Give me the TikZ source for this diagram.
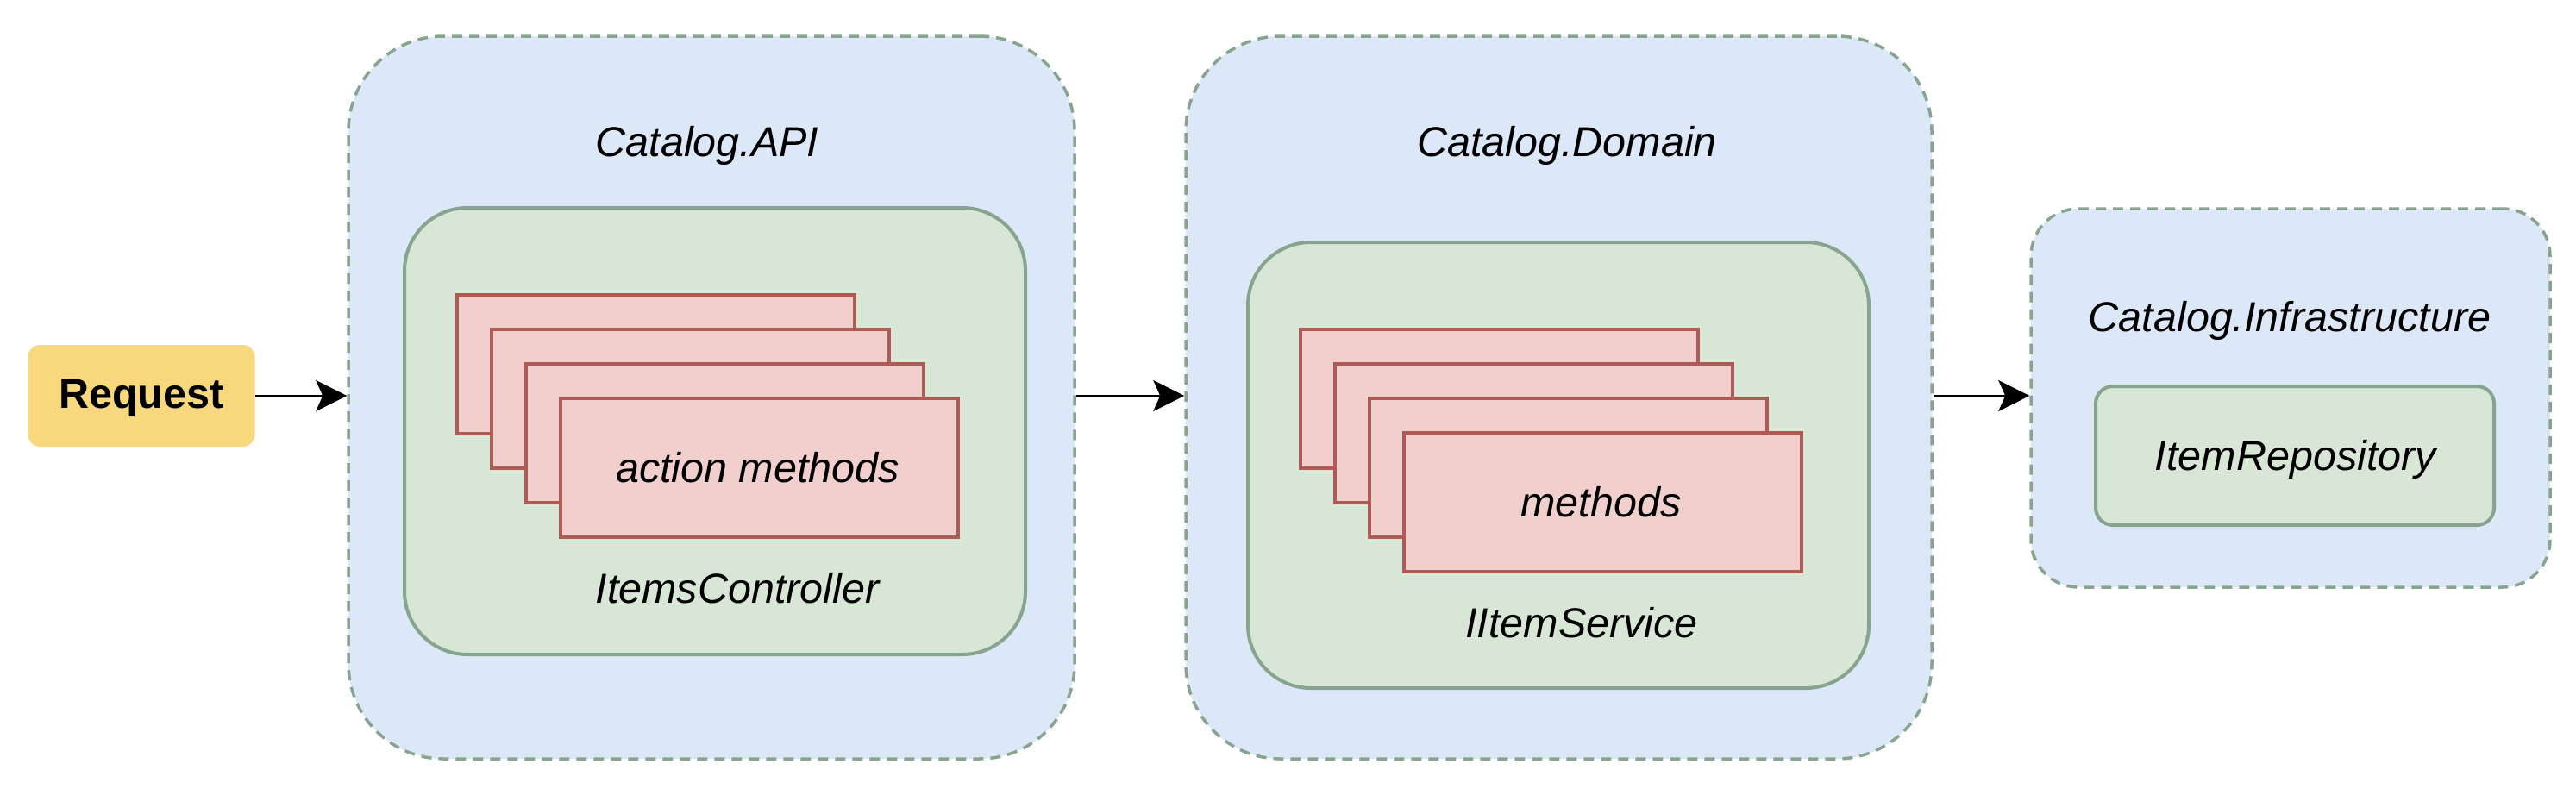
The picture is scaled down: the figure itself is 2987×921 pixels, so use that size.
\documentclass[tikz,border=0pt]{standalone}
\usepackage{fontspec}
\setmainfont{Liberation Sans}
\usetikzlibrary{arrows.meta}
\definecolor{bluefill}{HTML}{DCE7F8}
\definecolor{grayline}{HTML}{87A58E}
\definecolor{greenfill}{HTML}{D8E6D5}
\definecolor{pinkfill}{HTML}{F1CFCD}
\definecolor{pinkline}{HTML}{AE5B55}
\definecolor{reqfill}{HTML}{F7D87C}
\tikzset{
  layer/.style={draw=grayline, fill=bluefill, line width=3.5pt, dash pattern=on 12pt off 8pt, rectangle, inner sep=0pt},
  comp/.style={draw=grayline, fill=greenfill, line width=4pt, rectangle, inner sep=0pt},
  method/.style={draw=pinkline, fill=pinkfill, line width=4pt, rectangle, inner sep=0pt, minimum width=461pt, minimum height=161pt, anchor=north west},
  lbl/.style={font=\fontsize{48.5}{58}\selectfont\itshape, inner sep=0pt},
  flow/.style={line width=3pt, -{Stealth[length=36pt, width=36pt, inset=8pt]}},
}
\begin{document}
\begin{tikzpicture}[x=1pt, y=-1pt]
\useasboundingbox (0,0) rectangle (2987,921);
% Request
\node[fill=reqfill, rounded corners=14pt, minimum width=263pt, minimum height=118pt, inner sep=0pt] (req) at (164,459) {};
\node[font=\fontsize{48.5}{58}\selectfont\bfseries, inner sep=0pt] (reqlbl) at (164,462) {Request};
% Catalog.API
\node[layer, rounded corners=110pt, minimum width=842pt, minimum height=838pt] (api) at (825,461) {};
\node[lbl] (apilbl) at (820,169) {Catalog.API};
\node[comp, rounded corners=73pt, minimum width=720pt, minimum height=518pt] (ctrl) at (829,500) {};
\node[method] (am1) at (528,340) {};
\node[method] (am2) at (568,380) {};
\node[method] (am3) at (608,420) {};
\node[method] (am4) at (648,460) {};
\node[lbl] (amlbl) at (878.5,542) {action methods};
\node[lbl] (ctrllbl) at (855,682) {ItemsController};
% Catalog.Domain
\node[layer, rounded corners=110pt, minimum width=865pt, minimum height=838pt] (dom) at (1807.5,461) {};
\node[lbl] (domlbl) at (1817,169) {Catalog.Domain};
\node[comp, rounded corners=73pt, minimum width=720pt, minimum height=517pt] (svc) at (1807,539.5) {};
\node[method] (sm1) at (1506,380) {};
\node[method] (sm2) at (1546,420) {};
\node[method] (sm3) at (1586,460) {};
\node[method] (sm4) at (1626,500) {};
\node[lbl] (smlbl) at (1856.5,582) {methods};
\node[lbl] (svclbl) at (1834,722) {IItemService};
% Catalog.Infrastructure
\node[layer, rounded corners=55pt, minimum width=602pt, minimum height=439pt] (inf) at (2656,461.5) {};
\node[lbl] (inflbl) at (2655,372) {Catalog.Infrastructure};
\node[comp, rounded corners=20pt, minimum width=462pt, minimum height=161pt] (repo) at (2661,528.5) {};
\node[lbl] (repolbl) at (2662,533) {ItemRepository};
% connectors
\draw[flow] (req.east) -- (req.east -| api.west);
\draw[flow] (api.east |- req.east) -- (dom.west |- req.east);
\draw[flow] (dom.east |- req.east) -- (inf.west |- req.east);
\end{tikzpicture}
\end{document}
